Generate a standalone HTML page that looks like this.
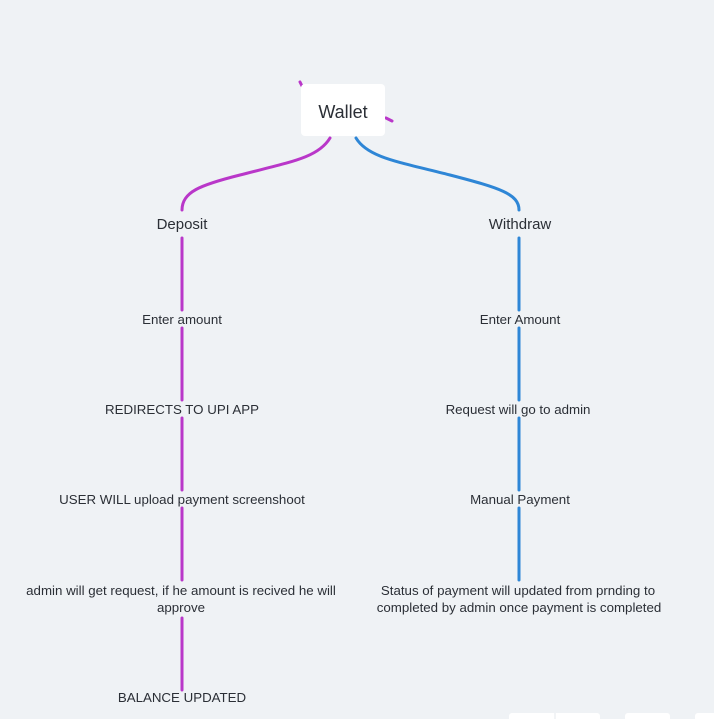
<!DOCTYPE html>
<html><head><meta charset="utf-8"><style>
html,body{margin:0;padding:0;background:#eff2f5;}
svg{display:block;font-family:"Liberation Sans","DejaVu Sans",sans-serif;}
text{fill:#2b2f36;text-anchor:middle;}
</style></head><body>
<svg width="714" height="719">
<rect width="714" height="719" fill="#eff2f5"/>
<g fill="none" stroke-width="3" stroke-linecap="round">
<path d="M330 138 C318 158 290 162 240 175 C200 185 182 192 182 210" stroke="#b937c9"/>
<path d="M356 138 C368 158 400 162 450 175 C500 188 519 194 519 210" stroke="#2e86d6"/>
<path d="M300 82 L302 86" stroke="#b937c9"/>
<path d="M386 118 L392 121" stroke="#b937c9"/>
<g stroke="#b937c9">
<path d="M182 238 V310"/><path d="M182 328 V400"/><path d="M182 418 V490"/><path d="M182 508 V580"/><path d="M182 618 V690"/>
</g>
<g stroke="#2e86d6">
<path d="M519 238 V310"/><path d="M519 328 V400"/><path d="M519 418 V490"/><path d="M519 508 V580"/>
</g>
</g>
<rect x="301" y="84" width="84" height="52" rx="4" fill="#fff"/>
<text x="343" y="118" font-size="18">Wallet</text>
<text x="182" y="229" font-size="15">Deposit</text>
<text x="520" y="229" font-size="15">Withdraw</text>
<g font-size="13.3">
<text x="182" y="324">Enter amount</text>
<text x="182" y="414">REDIRECTS TO UPI APP</text>
<text x="182" y="504">USER WILL upload payment screenshoot</text>
<text x="181" y="595">admin will get request, if he amount is recived he will</text>
<text x="181" y="612">approve</text>
<text x="182" y="702">BALANCE UPDATED</text>
<text x="520" y="324">Enter Amount</text>
<text x="518" y="414">Request will go to admin</text>
<text x="520" y="504">Manual Payment</text>
<text x="518" y="595">Status of payment will updated from prnding to</text>
<text x="519" y="612">completed by admin once payment is completed</text>
</g>
<g fill="#fff">
<rect x="509" y="713" width="91" height="12" rx="3"/>
<line x1="555" y1="713" x2="555" y2="719" stroke="#e6e9ee"/>
<rect x="625" y="713" width="45" height="12" rx="3"/>
<rect x="695" y="713" width="25" height="12" rx="3"/>
</g>
</svg>
</body></html>
